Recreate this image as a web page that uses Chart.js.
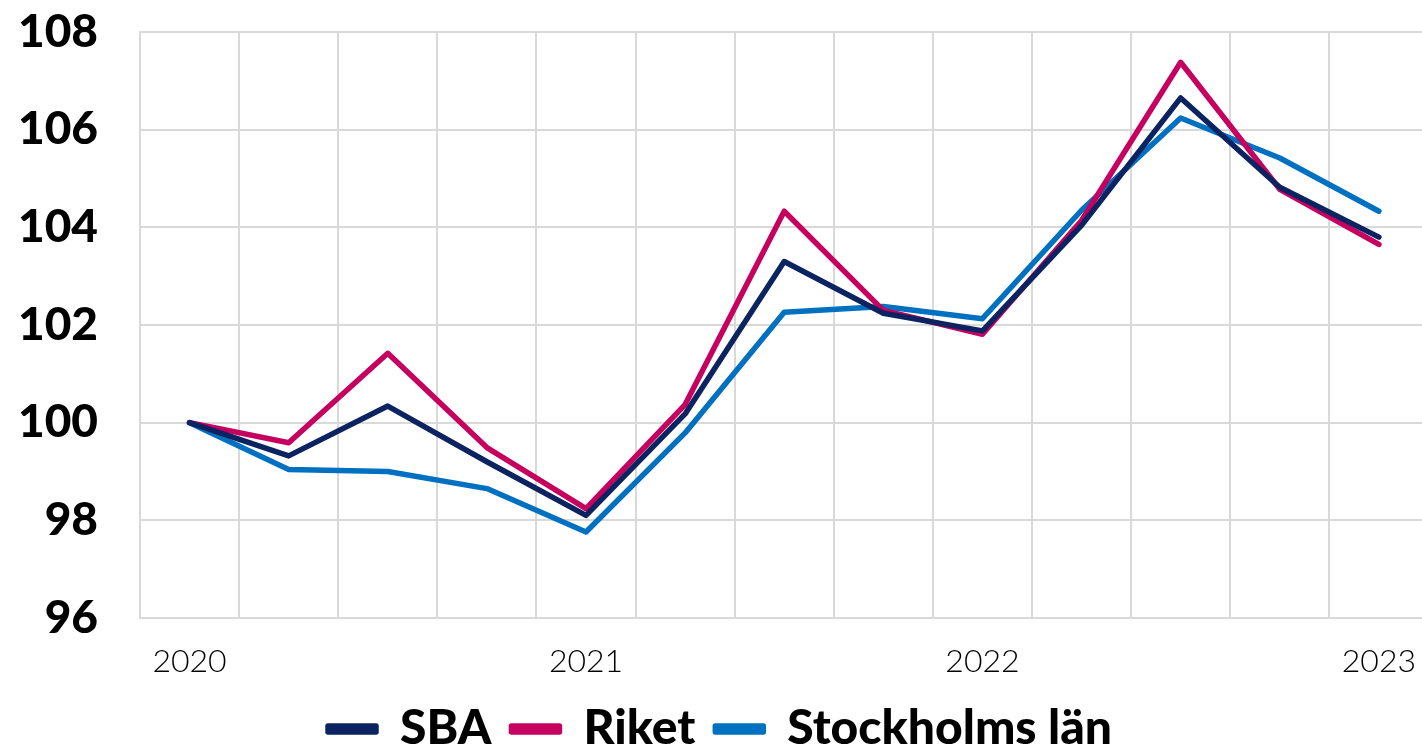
<!DOCTYPE html>
<html>
<head>
<meta charset="utf-8">
<script src="https://cdn.jsdelivr.net/npm/chart.js@4"></script>
<style>
  html, body { margin:0; padding:0; background:#fff; overflow:hidden; }
  #wrap { width:1422px; height:750px; overflow:hidden; }
</style>
</head>
<body>
<div id="wrap"><canvas id="chart" width="1440" height="763"></canvas></div>
<script>
// quarters 2020 Q1 .. 2023 Q1, only the first quarter of each year is labelled
var labels = ['2020','','','','2021','','','','2022','','','','2023'];

var sba      = [100, 99.32, 100.34, 99.2, 98.1, 100.18, 103.3, 102.24, 101.88, 104.04, 106.65, 104.82, 103.8];
var riket    = [100, 99.59, 101.42, 99.49, 98.24, 100.37, 104.33, 102.3, 101.81, 104.14, 107.38, 104.78, 103.65];
var stockholm= [100, 99.04, 99.0, 98.65, 97.76, 99.79, 102.26, 102.38, 102.13, 104.35, 106.24, 105.42, 104.33];

var yTicks = [96, 98, 100, 102, 104, 106, 108];

function mkSet(name, vals, col) {
    return {
        label: name,
        data: vals,
        borderColor: col,
        backgroundColor: col,
        borderWidth: 5.5,
        pointRadius: 0,
        tension: 0,
        borderCapStyle: 'round',
        borderJoinStyle: 'round'
    };
}

new Chart(document.getElementById('chart'), {
    type: 'line',
    data: {
        labels: labels,
        datasets: [
            mkSet('SBA', sba, '#0b2361'),
            mkSet('Riket', riket, '#c6005f'),
            mkSet('Stockholms län', stockholm, '#0070c0')
        ]
    },
    options: {
        responsive: false,
        animation: false,
        layout: { padding: { top: 32, left: 0, right: 0, bottom: 0 } },
        plugins: {
            tooltip: { enabled: false },
            legend: {
                position: 'bottom',
                labels: {
                    boxWidth: 48,
                    boxHeight: 6,
                    padding: 20,
                    color: '#000',
                    font: { family: 'Lato', size: 48, weight: '900' }
                }
            }
        },
        scales: {
            x: {
                offset: true,
                afterFit: function(ax) { ax.height = 67; },
                grid: { offset: true, color: '#d9d9d9', lineWidth: 2, drawTicks: false },
                border: { color: '#d9d9d9', width: 2 },
                ticks: {
                    autoSkip: false,
                    maxRotation: 0,
                    padding: 24,
                    color: '#000',
                    font: { family: 'Lato', size: 32, weight: '300' }
                }
            },
            y: {
                min: 96,
                max: 108,
                afterBuildTicks: function(ax) { ax.ticks = yTicks.map(function(v){ return { value: v }; }); },
                afterFit: function(ax) {
                    ax.width = 140;
                    ax.paddingTop = 0;
                    ax.paddingBottom = 0;
                },
                grid: { color: '#d9d9d9', lineWidth: 2, drawTicks: false },
                border: { color: '#d9d9d9', width: 2 },
                ticks: {
                    padding: 42,
                    color: '#000',
                    font: { family: 'Lato', size: 46, weight: '900' }
                }
            }
        }
    }
});
</script>
</body>
</html>
